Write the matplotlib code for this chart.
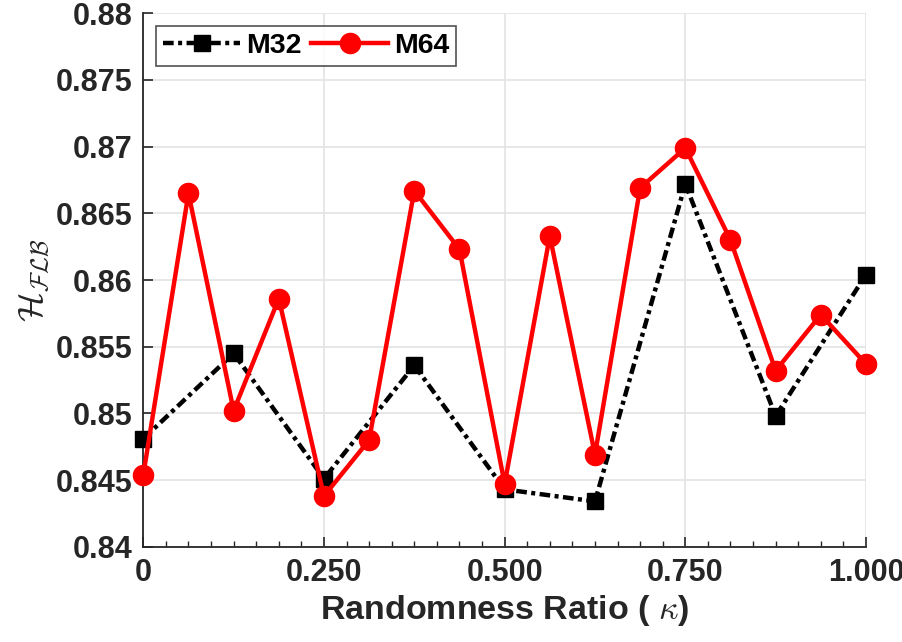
import numpy as np
import matplotlib
matplotlib.use('Agg')
import matplotlib.pyplot as plt
from matplotlib.ticker import MultipleLocator

# datos
x_m32 = [0, 0.125, 0.25, 0.375, 0.5, 0.625, 0.75, 0.875, 1.0]
y_m32 = [0.8481, 0.8545, 0.8451, 0.8536, 0.8443, 0.8434, 0.8672, 0.8498, 0.8604]

x_m64 = [0, 0.0625, 0.125, 0.1875, 0.25, 0.3125, 0.375, 0.4375, 0.5,
         0.5625, 0.625, 0.6875, 0.75, 0.8125, 0.875, 0.9375, 1.0]
y_m64 = [0.8454, 0.8665, 0.8502, 0.8586, 0.8438, 0.8480, 0.8667, 0.8623, 0.8447,
         0.8633, 0.8469, 0.8669, 0.8699, 0.8630, 0.8532, 0.8574, 0.8537]

xticks = [0, 0.25, 0.5, 0.75, 1.0]
xticklabels = ['0', '0.250', '0.500', '0.750', '1.000']
yticks = [0.84, 0.845, 0.85, 0.855, 0.86, 0.865, 0.87, 0.875, 0.88]
yticklabels = ['0.84', '0.845', '0.85', '0.855', '0.86', '0.865', '0.87', '0.875', '0.88']

plt.rcParams['font.family'] = ['Liberation Sans', 'DejaVu Sans']
plt.rcParams['mathtext.fontset'] = 'cm'

dark = '#262626'

fig = plt.figure(figsize=(9.03, 6.42), dpi=100)
ax = fig.add_axes([0.1587, 0.1484, 0.959 - 0.1587, 0.9793 - 0.1484])

ax.plot(x_m32, y_m32, color='black', linestyle=(0, (2.4, 1.0, 0.9, 1.0)), linewidth=3.2,
        marker='s', markersize=11.5, label='M32', zorder=3, clip_on=False)
ax.plot(x_m64, y_m64, color='red', linestyle='-', linewidth=3.2,
        marker='o', markersize=14.5, label='M64', zorder=4, clip_on=False)

ax.set_xlim(0, 1)
ax.set_ylim(0.84, 0.88)
ax.set_xticks(xticks)
ax.set_xticklabels(xticklabels)
ax.set_yticks(yticks)
ax.set_yticklabels(yticklabels)
ax.xaxis.set_minor_locator(MultipleLocator(1 / 32))

ax.grid(True, which='major', color='#e3e3e3', linewidth=1.2)
ax.set_axisbelow(True)

for s in ['top', 'right']:
    ax.spines[s].set_visible(False)
for s in ['left', 'bottom']:
    ax.spines[s].set_color(dark)
    ax.spines[s].set_linewidth(1.3)

ax.tick_params(axis='both', which='major', direction='in', length=7, width=1.2,
               colors=dark, labelsize=22, pad=8)
ax.tick_params(axis='x', which='minor', direction='in', length=4, width=1.0, colors=dark)
for lbl in ax.get_xticklabels() + ax.get_yticklabels():
    lbl.set_fontweight('bold')

ax.set_xlabel(r'Randomness Ratio ( $\kappa$)', fontsize=24.5, fontweight='bold', color=dark, labelpad=4)
ax.set_ylabel(r'$\mathcal{H}_{\mathcal{FLB}}$', fontsize=25, color=dark, labelpad=2)

leg = ax.legend(loc='upper left', ncol=2, prop={'weight': 'bold', 'size': 20.5},
                handlelength=2.7, columnspacing=0.35, handletextpad=0.2,
                borderaxespad=0.45, borderpad=0.25, frameon=True, fancybox=False)
leg.get_frame().set_edgecolor(dark)
leg.get_frame().set_linewidth(1.2)

fig.savefig('out.png', dpi=100)
